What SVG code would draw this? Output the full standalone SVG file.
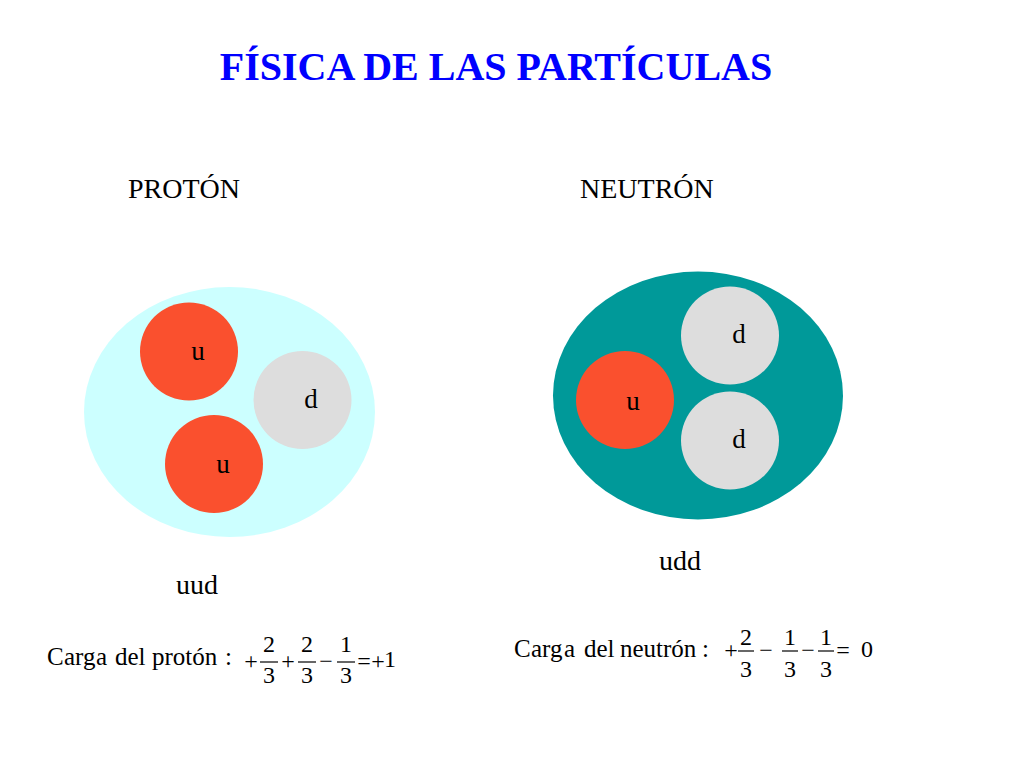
<svg xmlns="http://www.w3.org/2000/svg" width="1024" height="768" viewBox="0 0 1024 768">
<style>
text{font-family:"Liberation Serif","DejaVu Serif","Times New Roman",serif;fill:#000}
.title{font-size:40px;font-weight:bold;fill:#0000FF}
.head{font-size:28px}
.q{font-size:27px;text-anchor:middle}
.eq{font-size:25px}
.dig{font-size:24px;text-anchor:middle}
.op{font-size:24px;text-anchor:middle}
.bar{stroke:#000;stroke-width:1.2}
.up{fill:#FA502E}
.down{fill:#DDDDDD}
</style>
<rect width="1024" height="768" fill="#fff"/>
<text class="title" x="496" y="80" text-anchor="middle">FÍSICA DE LAS PARTÍCULAS</text>
<text class="head" x="128" y="198">PROTÓN</text>
<text class="head" x="580" y="198">NEUTRÓN</text>

<g id="proton">
<ellipse cx="229.5" cy="412" rx="145.5" ry="125" fill="#CCFFFF"/>
<g id="p-u1"><circle class="up" cx="189" cy="351.5" r="49"/><text class="q" x="198" y="360">u</text></g>
<g id="p-d"><circle class="down" cx="302.5" cy="400" r="49"/><text class="q" x="311" y="408">d</text></g>
<g id="p-u2"><circle class="up" cx="214" cy="464" r="49"/><text class="q" x="223" y="473">u</text></g>
</g>

<g id="neutron">
<ellipse cx="698" cy="395.5" rx="145" ry="124" fill="#009999"/>
<g id="n-u"><circle class="up" cx="625" cy="400" r="49"/><text class="q" x="633" y="410">u</text></g>
<g id="n-d1"><circle class="down" cx="730" cy="335.5" r="49"/><text class="q" x="739" y="343">d</text></g>
<g id="n-d2"><circle class="down" cx="730" cy="440.5" r="49"/><text class="q" x="739" y="448">d</text></g>
</g>

<text class="head" x="176" y="594">uud</text>
<text class="head" x="659" y="570">udd</text>

<g id="eq-proton">
<text class="eq" y="665"><tspan x="47">C</tspan><tspan x="64">arg</tspan><tspan x="96">a</tspan><tspan x="115">del</tspan><tspan x="152">protón</tspan><tspan x="225">:</tspan></text>
<text class="op" x="251" y="669">+</text>
<line class="bar" x1="260" y1="662" x2="278" y2="662"/>
<text class="dig" x="269" y="652">2</text>
<text class="dig" x="269" y="683">3</text>
<text class="op" x="288" y="669">+</text>
<line class="bar" x1="298" y1="662" x2="316" y2="662"/>
<text class="dig" x="307" y="652">2</text>
<text class="dig" x="307" y="683">3</text>
<text class="op" x="326" y="669">−</text>
<line class="bar" x1="337" y1="662" x2="355" y2="662"/>
<text class="dig" x="346" y="652">1</text>
<text class="dig" x="346" y="683">3</text>
<text class="op" y="669"><tspan x="364">=</tspan><tspan x="378">+</tspan></text>
<text class="dig" x="390" y="667">1</text>
</g>

<g id="eq-neutron">
<text class="eq" y="657"><tspan x="514">C</tspan><tspan x="531">arg</tspan><tspan x="564">a</tspan><tspan x="584">del</tspan><tspan x="620">neutrón</tspan><tspan x="702">:</tspan></text>
<text class="op" x="731" y="658">+</text>
<line class="bar" x1="738" y1="651" x2="754" y2="651"/>
<text class="dig" x="746" y="645">2</text>
<text class="dig" x="746" y="677">3</text>
<text class="op" x="766" y="658">−</text>
<line class="bar" x1="782" y1="651" x2="798" y2="651"/>
<text class="dig" x="790" y="645">1</text>
<text class="dig" x="790" y="677">3</text>
<text class="op" x="808" y="658">−</text>
<line class="bar" x1="818" y1="651" x2="834" y2="651"/>
<text class="dig" x="826" y="645">1</text>
<text class="dig" x="826" y="677">3</text>
<text class="op" x="843" y="658">=</text>
<text class="dig" x="867" y="657">0</text>
</g>
</svg>
